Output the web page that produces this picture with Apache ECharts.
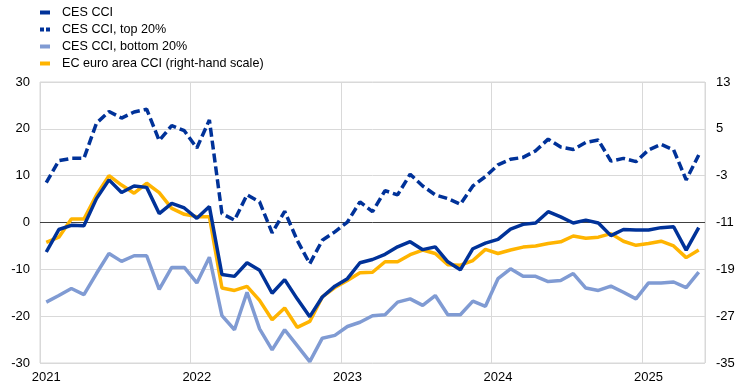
<!DOCTYPE html>
<html>
<head>
<meta charset="utf-8">
<script src="https://cdn.jsdelivr.net/npm/echarts@6/dist/echarts.min.js"></script>
<style>
html,body{margin:0;padding:0;background:#fff;}
#chart{width:742px;height:388px;}
</style>
</head>
<body>
<div id="chart"></div>
<script>
// Monthly categories Jan 2021 - May 2025
var years = ['2021','2022','2023','2024','2025'];
var categories = [];
years.forEach(function(y){
  for (var m = 1; m <= 12; m++) {
    if (y === '2025' && m > 5) break;
    categories.push(y + '-' + (m < 10 ? '0' + m : m));
  }
});

var cesCCI = [-6.3,-1.5,-0.6,-0.7,5.1,9.1,6.4,7.8,7.5,1.9,4.1,3.1,0.9,3.4,
  -11.1,-11.5,-8.6,-10.2,-15.1,-12.2,-16.3,-20.1,-15.9,-13.6,-12.0,-8.6,-7.9,
  -6.8,-5.2,-4.1,-5.8,-5.2,-8.4,-10.1,-5.6,-4.4,-3.6,-1.4,-0.4,-0.1,
  2.3,1.2,-0.1,0.5,-0.1,-2.8,-1.5,-1.6,-1.6,-1.1,-0.9,-5.9,-1.1];

var cesTop20 = [8.5,13.2,13.7,13.7,21.2,23.7,22.3,23.6,24.2,17.5,20.7,19.6,15.9,21.9,
  1.9,0.5,5.9,4.4,-2.2,2.4,-3.8,-8.8,-3.8,-2.0,0.1,4.4,2.3,
  6.8,5.9,10.3,7.8,5.9,5.1,3.9,7.8,9.8,12.3,13.5,13.9,15.3,
  17.8,16.1,15.6,17.1,17.6,13.1,13.7,13.0,15.5,16.7,15.5,9.1,14.4];

var cesBottom20 = [-17.0,-15.6,-14.1,-15.4,-10.9,-6.6,-8.3,-7.1,-7.1,-14.3,-9.6,-9.6,-12.9,-7.4,
  -19.9,-22.9,-14.9,-22.7,-27.2,-22.9,-26.3,-29.7,-24.7,-24.1,-22.2,-21.3,-19.9,
  -19.7,-17.0,-16.3,-17.7,-15.6,-19.7,-19.7,-16.8,-17.9,-12.0,-9.9,-11.5,-11.5,
  -12.6,-12.4,-10.9,-14.0,-14.5,-13.6,-14.9,-16.3,-12.9,-12.9,-12.7,-13.9,-10.6];

var ecCCI = [-14.4,-13.5,-10.4,-10.4,-6.3,-3.0,-4.6,-6.0,-4.3,-5.9,-8.6,-9.6,-10.0,-10.0,
  -22.2,-22.6,-21.9,-24.3,-27.6,-25.6,-28.9,-27.9,-23.7,-22.1,-20.9,-19.6,-19.5,
  -17.7,-17.7,-16.5,-15.7,-16.3,-18.2,-18.3,-17.5,-15.6,-16.3,-15.7,-15.2,-15.0,
  -14.6,-14.3,-13.3,-13.7,-13.5,-12.9,-14.2,-14.9,-14.6,-14.2,-15.0,-17.0,-15.7];

var seriesNames = ['CES CCI','CES CCI, top 20%','CES CCI, bottom 20%','EC euro area CCI (right-hand scale)'];

var darkBlue = '#003299', lightBlue = '#809bd3', yellow = '#ffb400';
var font = 'Liberation Sans, Arial, sans-serif';

var chart = echarts.init(document.getElementById('chart'), null, {renderer:'canvas'});
chart.setOption({
  animation: false,
  textStyle: {fontFamily: font},
  grid: {left: 40, right: 37, top: 82, bottom: 25, show: true, borderColor: '#d9d9d9', borderWidth: 1},
  legend: {
    orient: 'vertical', left: 35, top: 1, itemGap: 4, itemWidth: 10, itemHeight: 4,
    textStyle: {fontSize: 12.6, color: '#000', fontFamily: font, padding: [0,0,0,7]},
    data: [
      {name: seriesNames[0], icon: 'rect', itemStyle: {color: darkBlue}},
      {name: seriesNames[1], icon: 'path://M0,0h4v4h-4z M6,0h4v4h-4z', itemStyle: {color: darkBlue}},
      {name: seriesNames[2], icon: 'rect', itemStyle: {color: lightBlue}},
      {name: seriesNames[3], icon: 'rect', itemStyle: {color: yellow}}
    ]
  },
  xAxis: {
    type: 'category', data: categories, boundaryGap: true,
    axisLine: {show: false}, axisTick: {show: false},
    axisLabel: {
      interval: function(i){ return i % 12 === 0; },
      formatter: function(v){ return v.slice(0,4); },
      fontSize: 13, color: '#000', margin: 8, fontFamily: font
    },
    splitLine: {show: true, interval: function(i){ return i % 12 === 0; }, lineStyle: {color: '#d9d9d9', width: 1}}
  },
  yAxis: [
    {type: 'value', min: -30, max: 30, interval: 10,
     axisLine: {show: false}, axisTick: {show: false},
     axisLabel: {fontSize: 13, color: '#000', margin: 10, fontFamily: font},
     splitLine: {lineStyle: {color: '#d9d9d9', width: 1}}},
    {type: 'value', min: -35, max: 13, interval: 8, position: 'right',
     axisLine: {show: false}, axisTick: {show: false},
     axisLabel: {fontSize: 13, color: '#000', margin: 11, fontFamily: font},
     splitLine: {show: false}}
  ],
  series: [
    {name: seriesNames[2], type: 'line', data: cesBottom20, yAxisIndex: 0, symbol: 'none',
     lineStyle: {color: lightBlue, width: 3.5}, itemStyle: {color: lightBlue}, z: 2},
    {name: seriesNames[3], type: 'line', data: ecCCI, yAxisIndex: 1, symbol: 'none',
     lineStyle: {color: yellow, width: 3.5}, itemStyle: {color: yellow}, z: 3},
    {name: seriesNames[0], type: 'line', data: cesCCI, yAxisIndex: 0, symbol: 'none',
     lineStyle: {color: darkBlue, width: 3.5}, itemStyle: {color: darkBlue}, z: 4,
     markLine: {silent: true, symbol: 'none', label: {show: false},
       lineStyle: {color: '#404040', width: 1, type: 'solid'}, data: [{yAxis: 0}], z: 1}},
    {name: seriesNames[1], type: 'line', data: cesTop20, yAxisIndex: 0, symbol: 'none',
     lineStyle: {color: darkBlue, width: 3.5, type: [9, 4]}, itemStyle: {color: darkBlue}, z: 4}
  ]
});
</script>
</body>
</html>
